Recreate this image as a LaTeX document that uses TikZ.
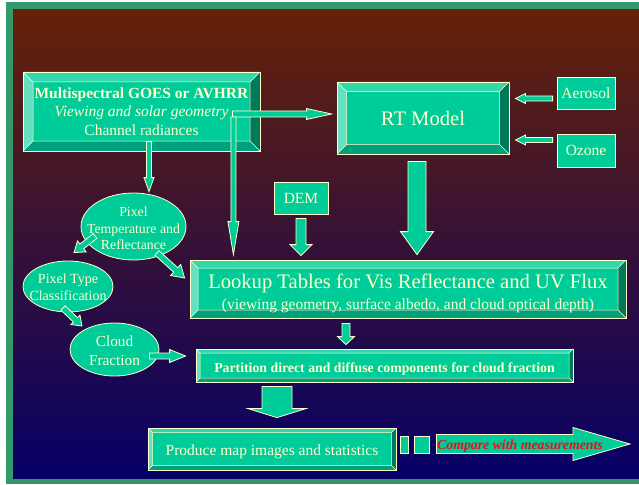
\documentclass[tikz,border=0pt]{standalone}
\usepackage{fontspec}
\setmainfont{Liberation Serif}
\usetikzlibrary{calc,shapes.geometric}

\definecolor{face}{HTML}{00CC99}
\definecolor{edge}{HTML}{FFFFCC}
\definecolor{bvtop}{HTML}{33D8AA}
\definecolor{bvleft}{HTML}{66E0C0}
\definecolor{bvright}{HTML}{00785A}
\definecolor{bvbottom}{HTML}{00A07C}
\definecolor{frame}{HTML}{33996A}
\definecolor{bgtop}{HTML}{662208}
\definecolor{bgmid}{HTML}{461848}
\definecolor{bgbot}{HTML}{060066}
\definecolor{cmpred}{HTML}{E8101C}

\newcommand{\fsmall}{\fontsize{13.8}{16.5}\selectfont}
\newcommand{\fmain}{\fontsize{15.5}{18.5}\selectfont}
\newcommand{\fbig}{\fontsize{20.6}{24}\selectfont}

\tikzset{
  shaftw/.store in=\shaftw, headw/.store in=\headw, headl/.store in=\headl,
  shaftw=3pt, headw=6pt, headl=10pt,
  flatbox/.style={draw=edge, fill=face, text=edge, line width=0.8pt, inner sep=0pt, align=center},
  bevelbox/.style={flatbox, path picture={
      \path (path picture bounding box.south west) coordinate (bsw)
            (path picture bounding box.north east) coordinate (bne);
      \fill[bvtop] (bsw|-bne) -- (bne) -- ($(bne)+(-#1pt,-#1pt)$) -- ($(bsw|-bne)+(#1pt,-#1pt)$) -- cycle;
      \fill[bvbottom] (bsw) -- (bne|-bsw) -- ($(bne|-bsw)+(-#1pt,#1pt)$) -- ($(bsw)+(#1pt,#1pt)$) -- cycle;
      \fill[bvleft] (bsw) -- (bsw|-bne) -- ($(bsw|-bne)+(#1pt,-#1pt)$) -- ($(bsw)+(#1pt,#1pt)$) -- cycle;
      \fill[bvright] (bne) -- (bne|-bsw) -- ($(bne|-bsw)+(-#1pt,#1pt)$) -- ($(bne)+(-#1pt,-#1pt)$) -- cycle;
      \draw[edge, line width=0.5pt] ($(bsw)+(#1pt,#1pt)$) rectangle ($(bne)+(-#1pt,-#1pt)$)
        (bsw) -- ++(#1pt,#1pt) (bne) -- ++(-#1pt,-#1pt)
        (bsw|-bne) -- ++(#1pt,-#1pt) (bne|-bsw) -- ++(-#1pt,#1pt);
    }},
  blob/.style={ellipse, flatbox},
  blobtext/.style={text=edge, align=center, inner sep=0pt},
  fatarrow/.style={draw=edge, fill=face, line width=0.8pt, to path={
      let \p1=(\tikztostart), \p2=(\tikztotarget),
          \n1={atan2(\y2-\y1,\x2-\x1)}, \n2={veclen(\x2-\x1,\y2-\y1)} in
      -- ([shift={(\p1)},rotate=\n1]0pt,\shaftw)
      -- ([shift={(\p1)},rotate=\n1]{\n2*1pt-\headl},\shaftw)
      -- ([shift={(\p1)},rotate=\n1]{\n2*1pt-\headl},\headw)
      -- (\p2)
      -- ([shift={(\p1)},rotate=\n1]{\n2*1pt-\headl},-\headw)
      -- ([shift={(\p1)},rotate=\n1]{\n2*1pt-\headl},-\shaftw)
      -- ([shift={(\p1)},rotate=\n1]0pt,-\shaftw)
      -- cycle}}
}

\begin{document}
\begin{tikzpicture}[x=1pt, y=-1pt]
\useasboundingbox (0,0) rectangle (639,484);
\fill[white] (0,0) rectangle (639,484);
\fill[frame] (6,2) rectangle (639,484);
\shade[top color=bgtop, middle color=bgmid, bottom color=bgbot] (13,10) rectangle (639,478);

\node[bevelbox=10, minimum width=237pt, minimum height=79pt, font=\fmain] (ms) at (141.5,111.5)
  {\textbf{Multispectral GOES or AVHRR}\\\textit{Viewing and solar geometry}\\Channel radiances};
\node[bevelbox=9.5, minimum width=172pt, minimum height=72pt, font=\fbig] (rt) at (423,118) {RT Model};
\node[flatbox, minimum width=58pt, minimum height=32pt, font=\fmain] (aer) at (586,93) {Aerosol};
\node[flatbox, minimum width=58pt, minimum height=33pt, font=\fmain] (ozo) at (586,150.5) {Ozone};
\node[flatbox, minimum width=54pt, minimum height=32pt, font=\fmain] (dem) at (301,198) {DEM};

\node[blob, minimum width=105pt, minimum height=67pt] (pxt) at (133.5,226.5) {};
\node[blobtext, font=\fsmall] (pxttext) at ($(pxt)+(0,-2pt)$) {Pixel\\Temperature and\\Reflectance};
\node[blob, minimum width=90pt, minimum height=51pt] (pxc) at (68,286.5) {};
\node[blobtext, font={\fontsize{14}{17}\selectfont}] (pxctext) at ($(pxc)+(0,-1pt)$) {Pixel Type\\Classification};
\node[blob, minimum width=89pt, minimum height=53pt] (cld) at (114.5,349.5) {};
\node[blobtext, font={\fontsize{15.3}{19}\selectfont}] (cldtext) at ($(cld)+(0,-1.5pt)$) {Cloud\\Fraction};

\node[bevelbox=8, minimum width=436pt, minimum height=58pt, font=\fmain] (lut) at (408,289)
  {{\fbig\rule{0pt}{24pt}Lookup Tables for Vis Reflectance and UV Flux}\\[2.5pt](viewing geometry, surface albedo, and cloud optical depth)};
\node[bevelbox=4, minimum width=377pt, minimum height=33pt, font=\fsmall\bfseries] (par) at (384.5,365.5)
  {\rule{0pt}{17.5pt}Partition direct and diffuse components for cloud fraction};
\node[bevelbox=4.5, minimum width=248pt, minimum height=42pt, font=\fmain] (prd) at (272,449)
  {\rule{0pt}{16.5pt}Produce map images and statistics};
\node[flatbox, minimum width=8pt, minimum height=17pt] (sqa) at (404,444.5) {};
\node[flatbox, minimum width=15pt, minimum height=17pt] (sqb) at (421.5,444.5) {};

\coordinate (geo) at ($(ms.east)+(-28pt,-2.5pt)$);
\coordinate (rtin) at ($(rt.west |- geo)+(-5pt,0)$);
\coordinate (geodown) at ($(geo)+(1pt,-3pt)$);
\coordinate (lutgeo) at ($(geodown |- lut.north)+(0,5pt)$);
\coordinate (msout) at ($(ms.south)+(7.5pt,10pt)$);
\coordinate (pxtin) at ($(msout |- pxt.north)+(0,1pt)$);
\coordinate (aerout) at ($(aer.west)+(-4pt,-5.5pt)$);
\coordinate (rtaer) at ($(rt.east |- aerout)+(6pt,0)$);
\coordinate (ozoout) at ($(ozo.west)+(-4pt,10.5pt)$);
\coordinate (rtozo) at ($(rt.east |- ozoout)+(6pt,0)$);
\coordinate (rtout) at ($(rt.south)+(-6pt,-7pt)$);
\coordinate (lutrt) at ($(rtout |- lut.north)+(0,5pt)$);
\coordinate (demout) at ($(dem.south)+(0,-4pt)$);
\coordinate (lutdem) at ($(demout |- lut.north)+(0,4pt)$);
\coordinate (pxtout) at ($(pxt)+(-38.5pt,-9.5pt)$);
\coordinate (pxcin) at ($(pxc.north)+(6pt,8pt)$);
\coordinate (pxtlut) at ($(pxt)+(23.5pt,-26.5pt)$);
\coordinate (lutpxt) at ($(lut.west)+(-5pt,11pt)$);
\coordinate (pxcout) at ($(pxc)+(-5pt,-21.5pt)$);
\coordinate (cldin) at ($(cld)+(-32.5pt,23.5pt)$);
\coordinate (cldout) at ($(cld.east)+(-10pt,-6.5pt)$);
\coordinate (parcld) at ($(par.west |- cldout)+(-10pt,0)$);
\coordinate (lutout) at ($(lut.south)+(-62pt,-5pt)$);
\coordinate (parin) at ($(lutout |- par.north)+(0,4pt)$);
\coordinate (parout) at ($(par.south)+(-107.5pt,-4pt)$);
\coordinate (prdin) at ($(parout |- prd.north)+(0,10pt)$);
\coordinate (cmpin) at ($(sqb.east)+(7pt,0.5pt)$);
\coordinate (cmpout) at (630,444);

\draw[fatarrow, shaftw=3pt, headw=5.5pt, headl=25pt] (geo) to (rtin);
\draw[fatarrow, shaftw=2.5pt, headw=5.5pt, headl=33pt] (geodown) to (lutgeo);
\draw[fatarrow, shaftw=2.5pt, headw=5pt, headl=14pt] (msout) to (pxtin);
\draw[fatarrow, shaftw=2.5pt, headw=5pt, headl=10pt] (aerout) to (rtaer);
\draw[fatarrow, shaftw=2.5pt, headw=5pt, headl=10pt] (ozoout) to (rtozo);
\draw[fatarrow, shaftw=9pt, headw=16.5pt, headl=23pt] (rtout) to (lutrt);
\draw[fatarrow, shaftw=5pt, headw=11pt, headl=11pt] (demout) to (lutdem);
\draw[fatarrow, shaftw=3pt, headw=7pt, headl=10pt] (pxtout) to (pxcin);
\draw[fatarrow, shaftw=3pt, headw=7.5pt, headl=12pt] (pxtlut) to (lutpxt);
\draw[fatarrow, shaftw=3pt, headw=6.5pt, headl=9pt] (pxcout) to (cldin);
\draw[fatarrow, shaftw=3pt, headw=6.5pt, headl=16pt] (cldout) to (parcld);
\draw[fatarrow, shaftw=4pt, headw=8.5pt, headl=8pt] (lutout) to (parin);
\draw[fatarrow, shaftw=15pt, headw=29pt, headl=9pt] (parout) to (prdin);
\draw[fatarrow, shaftw=9.5pt, headw=16.5pt, headl=57pt] (cmpin) to (cmpout);
\node[text=cmpred, inner sep=0pt, font={\fontsize{13.8}{16}\selectfont\bfseries\itshape}] (cmptext) at (520,446)
  {Compare with measurements};

\end{tikzpicture}
\end{document}
